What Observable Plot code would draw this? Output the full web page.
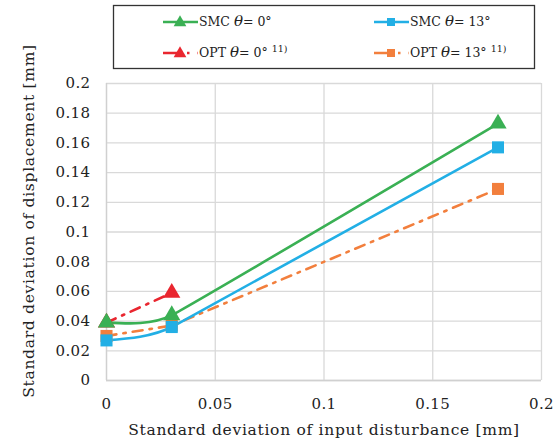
<!DOCTYPE html>
<html>
<head>
<meta charset="utf-8">
<script src="https://cdn.jsdelivr.net/npm/d3@7"></script>
<script src="https://cdn.jsdelivr.net/npm/@observablehq/plot@0.6"></script>
<style>
  body { margin: 0; background: #fff; }
  #wrap { position: relative; width: 560px; height: 448px; }
  #legend { position: absolute; left: 0; top: 0; }
  #chart { position: absolute; left: 0; top: 0; }
  #wrap svg, #wrap svg text { font-family: "DejaVu Serif", "Liberation Serif", serif !important; }
  #chart svg g[aria-label="x-axis label"] text, #chart svg g[aria-label="y-axis label"] text { font-size: 15.5px; letter-spacing: 0.7px; }
  #chart svg g[aria-label="x-axis tick label"] text, #chart svg g[aria-label="y-axis tick label"] text { letter-spacing: 0.4px; }
</style>
</head>
<body>
<div id="wrap"><div id="chart"></div><div id="legend"></div></div>
<script>
// Data
const xs = [0, 0.03, 0.18];
const smc0 = [0.039, 0.044, 0.173];
const smc13 = [0.027, 0.036, 0.157];
const opt0x = [0, 0.03];
const opt0 = [0.039, 0.059];
const opt13 = [0.030, 0.037, 0.129];

const xTicks = [0, 0.05, 0.1, 0.15, 0.2];
const xTickLabels = ["0", "0.05", "0.1", "0.15", "0.2"];
const yTicks = [0, 0.02, 0.04, 0.06, 0.08, 0.1, 0.12, 0.14, 0.16, 0.18, 0.2];
const yTickLabels = ["0", "0.02", "0.04", "0.06", "0.08", "0.1", "0.12", "0.14", "0.16", "0.18", "0.2"];

// Spreadsheet-style smoothed curve (bezier with limited tangent lengths)
function smoothCurve(context) {
  let pts = [];
  return {
    areaStart() {}, areaEnd() {},
    lineStart() { pts = []; },
    point(x, y) { pts.push([+x, +y]); },
    lineEnd() {
      const n = pts.length;
      if (n === 0) return;
      context.moveTo(pts[0][0], pts[0][1]);
      if (n === 2) { context.lineTo(pts[1][0], pts[1][1]); return; }
      const dist = (a, b) => Math.hypot(b[0] - a[0], b[1] - a[1]);
      const out = [], inn = [];
      for (let i = 1; i < n - 1; i++) {
        const dx = pts[i + 1][0] - pts[i - 1][0], dy = pts[i + 1][1] - pts[i - 1][1];
        const L = Math.hypot(dx, dy) || 1;
        const m = Math.min(dist(pts[i - 1], pts[i]), dist(pts[i], pts[i + 1])) / 3;
        out[i] = [pts[i][0] + dx / L * m, pts[i][1] + dy / L * m];
        inn[i] = [pts[i][0] - dx / L * m, pts[i][1] - dy / L * m];
      }
      for (let i = 0; i < n - 1; i++) {
        const p0 = pts[i], p1 = pts[i + 1];
        let c1 = i === 0 ? null : out[i];
        let c2 = i + 1 === n - 1 ? null : inn[i + 1];
        if (!c1) c1 = [(p0[0] + c2[0]) / 2, (p0[1] + c2[1]) / 2];
        if (!c2) c2 = [(p1[0] + c1[0]) / 2, (p1[1] + c1[1]) / 2];
        context.bezierCurveTo(c1[0], c1[1], c2[0], c2[1], p1[0], p1[1]);
      }
    }
  };
}

const series = [
  {name: "SMC", theta: "0°", sup: "", color: "#3AB054", symbol: "triangle", dash: null, x: xs, y: smc0, curve: smoothCurve},
  {name: "SMC", theta: "13°", sup: "", color: "#22AFE5", symbol: "square", dash: null, x: xs, y: smc13, curve: smoothCurve},
  {name: "OPT", theta: "0°", sup: "11)", color: "#E9262F", symbol: "triangle", dash: "10,7,2.5,7", x: opt0x, y: opt0, curve: "linear"},
  {name: "OPT", theta: "13°", sup: "11)", color: "#F27F3D", symbol: "square", dash: "10,7,2.5,7", x: xs, y: opt13, curve: "linear"}
];

const FONT = '"DejaVu Serif", "Liberation Serif", serif';
const marks = [
  Plot.gridX(xTicks, {stroke: "#d9d9d9", strokeOpacity: 1, strokeWidth: 1.3}),
  Plot.gridY(yTicks, {stroke: "#d9d9d9", strokeOpacity: 1, strokeWidth: 1.3}),
  Plot.ruleY([0], {stroke: "#d0d0d0", strokeWidth: 1.3}),
  Plot.ruleX([0], {stroke: "#d0d0d0", strokeWidth: 1.3})
];
const order = [3, 2, 1, 0];
for (const i of order) {
  const s = series[i];
  const data = s.x.map((x, j) => ({x, y: s.y[j]}));
  marks.push(Plot.line(data, {x: "x", y: "y", stroke: s.color, strokeWidth: 2.6, curve: s.curve, strokeDasharray: s.dash || undefined}));
}
for (const i of order) {
  const s = series[i];
  const data = s.x.map((x, j) => ({x, y: s.y[j]}));
  marks.push(Plot.dot(data, {x: "x", y: "y", fill: s.color, symbol: s.symbol, r: s.symbol === "square" ? 6.8 : 6.4, stroke: "none"}));
}
marks.push(Plot.axisX(xTicks, {tickFormat: (d, i) => xTickLabels[i], tickSize: 0, tickPadding: 18, fontSize: 15, fontFamily: FONT, label: "Standard deviation of input disturbance [mm]", labelAnchor: "center", labelArrow: "none", labelOffset: 54, fill: "#222"}));
marks.push(Plot.axisY(yTicks, {tickFormat: (d, i) => yTickLabels[i], tickSize: 0, tickPadding: 16, fontSize: 15, fontFamily: FONT, label: "Standard deviation of displacement [mm]", labelAnchor: "center", labelArrow: "none", labelOffset: 84, fill: "#222"}));

const chart = Plot.plot({
  width: 560,
  height: 448,
  marginTop: 83,
  marginLeft: 106,
  marginRight: 19,
  marginBottom: 68,
  style: {fontSize: "15px", color: "#222", background: "#fff"},
  x: {domain: [0, 0.2]},
  y: {domain: [0, 0.2]},
  marks
});
document.getElementById("chart").appendChild(chart);
// nudge the y-axis title upward (rotated text: +dx moves it up)
d3.select(chart).selectAll('g[aria-label="y-axis label"] text').attr("dx", 11);

// Legend
const lg = d3.select("#legend").append("svg").attr("width", 560).attr("height", 80);
lg.append("rect").attr("x", 113.5).attr("y", 5.5).attr("width", 421).attr("height", 63)
  .attr("fill", "#fff").attr("stroke", "#333").attr("stroke-width", 1.3);
const pos = [[163, 22], [374, 22], [163, 53], [374, 53]];
series.forEach((s, i) => {
  const [x0, y0] = pos[i];
  const g = lg.append("g");
  const lineLen = 35;
  g.append("line").attr("x1", x0).attr("x2", x0 + lineLen).attr("y1", y0).attr("y2", y0)
    .attr("stroke", s.color).attr("stroke-width", 2.6).attr("stroke-dasharray", s.dash ? "14,10,2.5,8" : null);
  const sym = d3.symbol(s.symbol === "square" ? d3.symbolSquare : d3.symbolTriangle, s.symbol === "square" ? 64 : 70);
  g.append("path").attr("d", sym()).attr("transform", `translate(${x0 + 17},${y0 + (s.symbol === "square" ? 0 : 0.5)})`).attr("fill", s.color);
  const t = g.append("text").attr("x", x0 + lineLen + 1).attr("y", y0).attr("dy", "0.35em")
    .attr("font-size", 12.5).attr("fill", "#222");
  t.append("tspan").text(s.name + " ");
  t.append("tspan").attr("font-style", "italic").attr("font-size", 15).text("θ");
  t.append("tspan").text("= " + s.theta);
  if (s.sup) t.append("tspan").attr("font-size", 9.5).attr("dy", "-0.6em").attr("dx", 4).text(s.sup);
});
</script>
</body>
</html>
